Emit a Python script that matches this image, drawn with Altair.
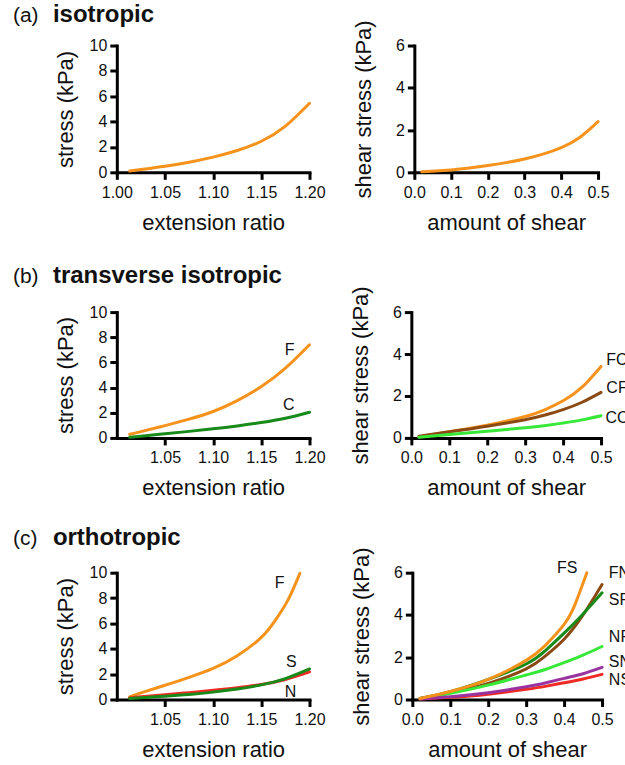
import altair as alt
import pandas as pd

FONT = "Liberation Sans"

# ---------------- extension tests (left column) ----------------
ext_x = [1.0133, 1.025, 1.05, 1.075, 1.10, 1.125, 1.15, 1.175, 1.20]
iso_ext = [0.10, 0.22, 0.48, 0.80, 1.20, 1.72, 2.45, 3.65, 5.45]
ti_ext_F = [0.29, 0.50, 0.98, 1.49, 2.10, 2.97, 4.08, 5.54, 7.40]
ti_ext_C = [0.05, 0.14, 0.33, 0.52, 0.72, 0.95, 1.22, 1.56, 2.04]
or_ext_F_x = [1.0133, 1.025, 1.05, 1.075, 1.10, 1.125, 1.15, 1.165, 1.178, 1.19]
or_ext_F = [0.21, 0.52, 1.12, 1.75, 2.45, 3.45, 4.90, 6.30, 7.90, 9.95]
or_ext_S = [0.08, 0.14, 0.26, 0.40, 0.58, 0.82, 1.15, 1.65, 2.41]
or_ext_N = [0.12, 0.22, 0.38, 0.54, 0.72, 0.93, 1.18, 1.58, 2.18]

# ---------------- shear tests (right column) ----------------
iso_shear_x = [0.02, 0.1, 0.15, 0.2, 0.25, 0.3, 0.35, 0.4, 0.45, 0.5]
iso_shear = [0.03, 0.11, 0.20, 0.32, 0.46, 0.63, 0.86, 1.17, 1.65, 2.40]
sh_x = [0.02, 0.1, 0.2, 0.3, 0.35, 0.4, 0.45, 0.5]
ti_FC = [0.05, 0.30, 0.60, 1.02, 1.33, 1.77, 2.42, 3.41]
ti_CF = [0.08, 0.29, 0.56, 0.87, 1.08, 1.35, 1.70, 2.17]
ti_CC = [0.03, 0.16, 0.32, 0.48, 0.58, 0.71, 0.86, 1.06]
or_FS_x = [0.02, 0.1, 0.2, 0.3, 0.35, 0.4, 0.43, 0.46]
or_FS = [0.05, 0.38, 0.95, 1.85, 2.55, 3.55, 4.55, 6.00]
or_FN = [0.05, 0.32, 0.76, 1.45, 2.05, 2.85, 4.00, 5.44]
or_SF = [0.05, 0.37, 0.95, 1.68, 2.30, 3.14, 4.05, 5.05]
or_NF = [0.04, 0.29, 0.68, 1.16, 1.42, 1.74, 2.10, 2.51]
or_SN = [0.02, 0.13, 0.32, 0.60, 0.78, 1.00, 1.22, 1.52]
or_NS = [0.02, 0.10, 0.25, 0.48, 0.62, 0.79, 0.97, 1.19]

# ---------------- curve labels ----------------
lab_b_left = ["F", "C"]
lab_b_left_x = [1.1742, 1.1725]
lab_b_left_y = [6.98, 2.62]
lab_b_right = ["FC", "CF", "CC"]
lab_b_right_x = [0.514, 0.514, 0.512]
lab_b_right_y = [3.73, 2.38, 0.95]
lab_c_left = ["F", "S", "N"]
lab_c_left_x = [1.1638, 1.1755, 1.1743]
lab_c_left_y = [9.2, 2.97, 0.59]
lab_c_right = ["FS", "FN", "SF", "NF", "SN", "NS"]
lab_c_right_x = [0.381, 0.518, 0.518, 0.518, 0.518, 0.518]
lab_c_right_y = [6.2, 5.99, 4.69, 2.96, 1.78, 0.90]

# ---------------- colours ----------------
ORANGE, DGREEN, LGREEN, BROWN, RED, PURPLE = (
    "#F5921C", "#178A1A", "#38E838", "#8B4A14", "#EE2A24", "#9933A0")
series_domain = ["iso", "F", "C", "FC", "CF", "CC", "S", "N",
                 "FS", "FN", "SF", "NF", "SN", "NS"]
series_range = [ORANGE, ORANGE, DGREEN, ORANGE, BROWN, LGREEN, DGREEN, RED,
                ORANGE, BROWN, DGREEN, LGREEN, PURPLE, RED]

row_titles = [("(a)", "isotropic"), ("(b)", "transverse isotropic"), ("(c)", "orthotropic")]


def curves_df(curves):
    rows = []
    for name, xs, ys in curves:
        for i, (xv, yv) in enumerate(zip(xs, ys)):
            rows.append({"series": name, "x": xv, "y": yv, "i": i})
    return pd.DataFrame(rows)


def panel(curves, labels, left, w, h, xvals, row_title=None, title_y=-24):
    if left:
        xdom, xfmt, xtitle = [1.0, 1.2], ".2f", "extension ratio"
        ydom, yvals, ytitle = [0, 10], [0, 2, 4, 6, 8, 10], "stress (kPa)"
    else:
        xdom, xfmt, xtitle = [0.0, 0.5], ".1f", "amount of shear"
        ydom, yvals, ytitle = [0, 6], [0, 2, 4, 6], "shear stress (kPa)"
    xenc = alt.X("x:Q", scale=alt.Scale(domain=xdom, nice=False, zero=False),
                 axis=alt.Axis(title=xtitle, values=xvals, format=xfmt, labelFlush=False,
                               labelOverlap=False, labelPadding=5, titleY=57,
                               titleBaseline="alphabetic"))
    yenc = alt.Y("y:Q", scale=alt.Scale(domain=ydom, nice=False),
                 axis=alt.Axis(title=ytitle, values=yvals, format="d", labelPadding=3,
                               labelOverlap=False, titleX=-44, titleAngle=270,
                               titleBaseline="alphabetic", titleAlign="center"))
    line = alt.Chart(curves_df(curves)).mark_line(
        strokeWidth=3, interpolate="natural", strokeCap="round"
    ).encode(
        x=xenc, y=yenc,
        color=alt.Color("series:N", scale=alt.Scale(domain=series_domain, range=series_range),
                        legend=None),
        order="i:Q",
    )
    layers = [line]
    if labels is not None:
        names, lx, ly = labels
        ldf = pd.DataFrame({"label": names, "x": lx, "y": ly})
        layers.append(alt.Chart(ldf).mark_text(
            align="left", baseline="middle", fontSize=16, font=FONT, color="#111111"
        ).encode(x=xenc, y=yenc, text="label:N"))
    if row_title is not None:
        tag, name = row_title
        layers.append(alt.Chart(pd.DataFrame({"t": [tag]})).mark_text(
            align="left", baseline="alphabetic", fontSize=21, font=FONT, color="#111111"
        ).encode(x=alt.value(-104), y=alt.value(title_y), text="t:N"))
        layers.append(alt.Chart(pd.DataFrame({"t": [name]})).mark_text(
            align="left", baseline="alphabetic", fontSize=24, fontWeight="bold", font=FONT,
            color="#111111"
        ).encode(x=alt.value(-64), y=alt.value(title_y), text="t:N"))
    return alt.layer(*layers).properties(width=w, height=h)


ext_ticks_a = [1.00, 1.05, 1.10, 1.15, 1.20]
ext_ticks_bc = [1.05, 1.10, 1.15, 1.20]
shear_ticks = [0.0, 0.1, 0.2, 0.3, 0.4, 0.5]

a_left = panel([("iso", ext_x, iso_ext)], None, True, 193, 127, ext_ticks_a,
               row_titles[0], -24)
a_right = panel([("iso", iso_shear_x, iso_shear)], None, False, 184, 127, shear_ticks)

b_left = panel([("F", ext_x, ti_ext_F), ("C", ext_x, ti_ext_C)],
               (lab_b_left, lab_b_left_x, lab_b_left_y), True, 193, 126, ext_ticks_bc,
               row_titles[1], -29)
b_right = panel([("FC", sh_x, ti_FC), ("CF", sh_x, ti_CF), ("CC", sh_x, ti_CC)],
                (lab_b_right, lab_b_right_x, lab_b_right_y), False, 190, 126, shear_ticks)

c_left = panel([("F", or_ext_F_x, or_ext_F), ("N", ext_x, or_ext_N), ("S", ext_x, or_ext_S)],
               (lab_c_left, lab_c_left_x, lab_c_left_y), True, 193, 127, ext_ticks_bc,
               row_titles[2], -28)
c_right = panel([("FN", sh_x, or_FN), ("SF", sh_x, or_SF), ("NF", sh_x, or_NF),
                 ("NS", sh_x, or_NS), ("SN", sh_x, or_SN), ("FS", or_FS_x, or_FS)],
                (lab_c_right, lab_c_right_x, lab_c_right_y), False, 190, 127, shear_ticks)

row_a = alt.hconcat(a_left, a_right, spacing=105, bounds="flush")
row_b = alt.hconcat(b_left, b_right, spacing=102, bounds="flush")
row_c = alt.hconcat(c_left, c_right, spacing=103, bounds="flush")

# with flush bounds nested rows count as zero-height, so spacing is top-to-top
chart = alt.vconcat(
    row_a,
    alt.vconcat(row_b, row_c, spacing=261, bounds="flush"),
    spacing=267, bounds="flush",
).properties(
    padding={"left": 13, "top": 2, "right": -7, "bottom": 0}
).configure(font=FONT).configure_view(stroke=None).configure_axis(
    domainColor="black", domainWidth=3, domainCap="square",
    tickColor="black", tickWidth=3, tickSize=7,
    labelFont=FONT, labelFontSize=16, labelColor="#111111",
    titleFont=FONT, titleFontSize=22, titleFontWeight="normal", titleColor="#111111",
    grid=False,
)

chart.save("out.html", embed_options={"renderer": "svg", "actions": False})
